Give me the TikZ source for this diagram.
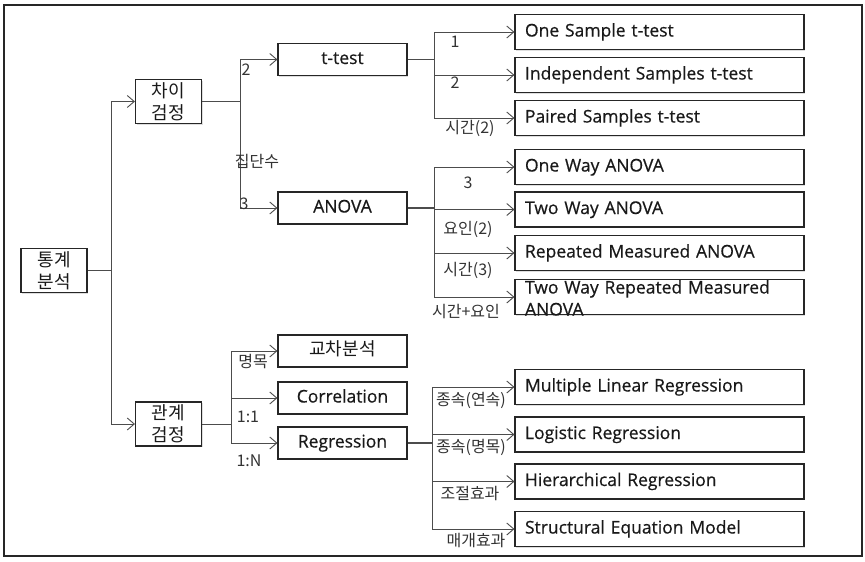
\documentclass[tikz,border=0pt]{standalone}
\usepackage{fontspec}
\setmainfont{Open Sans}[FakeBold=0.5]
\newfontfamily\kr{Noto Sans CJK KR}
\usetikzlibrary{arrows.meta,calc,shadows}

\tikzset{
  box/.style={draw=black!85, line width=1.1pt, fill=white,
    drop shadow={shadow xshift=1.2pt,shadow yshift=-1.2pt,fill=black!25},
    inner sep=0pt, font=\fontsize{17.5}{21}\selectfont, align=center, text=black!90},
  midbox/.style={box, minimum width=129pt, minimum height=32pt, text height=13pt, text depth=4pt},
  leftbox/.style={box, minimum width=66pt, minimum height=44pt, font=\kr\fontsize{18}{22}\selectfont},
  rightbox/.style={box, minimum height=35pt, text width=269pt, align=left, inner xsep=10pt,
    text height=13pt, text depth=4pt},
  lbl/.style={inner sep=0pt, font=\kr\fontsize{16}{18}\selectfont, text=black!80},
  link/.style={draw=black!70, line width=0.9pt},
  arr/.style={link, -{Straight Barb[length=7pt,width=12pt]}},
}

\begin{document}
\begin{tikzpicture}[x=1pt,y=-1pt]
\useasboundingbox (0,0) rectangle (865,562);
\fill[white] (0,0) rectangle (865,562);
\draw[line width=1.6pt, black!85] (4,5) rectangle (862,556);

% left column
\node[leftbox] (stat) at (54,270.5) {통계\\분석};
\node[leftbox] (chai) at (168.5,101.5) {차이\\검정};
\node[leftbox] (gwan) at (168.5,424) {관계\\검정};

% middle column
\node[midbox] (ttest) at (342.5,59.5) {t-test};
\node[midbox] (anova) at (342.5,208) {ANOVA};
\node[midbox, font=\kr\fontsize{18}{21}\selectfont] (cross) at (342.5,351) {교차분석};
\node[midbox] (corr) at (342.5,398) {Correlation};
\node[midbox] (reg) at (342.5,443) {Regression};

% right column
\node[rightbox] (one) at (659.5,32) {One Sample t-test};
\node[rightbox] (indep) at (659.5,75) {Independent Samples t-test};
\node[rightbox] (paired) at (659.5,118) {Paired Samples t-test};
\node[rightbox] (oneway) at (659.5,167) {One Way ANOVA};
\node[rightbox] (twoway) at (659.5,209.5) {Two Way ANOVA};
\node[rightbox] (rep) at (659.5,253) {Repeated Measured ANOVA};
\node[rightbox, text height=14pt, text depth=21pt, font=\fontsize{17.5}{22}\selectfont] (tworep) at (659.5,297) {Two Way Repeated Measured ANOVA};
\node[rightbox] (mlr) at (659.5,387) {Multiple Linear Regression};
\node[rightbox] (logi) at (659.5,434.5) {Logistic Regression};
\node[rightbox] (hier) at (659.5,481.5) {Hierarchical Regression};
\node[rightbox] (sem) at (659.5,529) {Structural Equation Model};

% junctions
\coordinate (j0) at ($(stat.east)+(24,0)$);
\coordinate (j1) at ($(chai.east)+(38,0)$);
\coordinate (j2) at ($(gwan.east)+(29,0)$);
\coordinate (j3) at ($(ttest.east)+(27,0)$);
\coordinate (j4) at ($(anova.east)+(27,0)$);
\coordinate (j5) at ($(reg.east)+(25,0)$);

\draw[link] (stat.east) -- (j0);
\draw[arr] (j0) |- (chai.west);
\draw[arr] (j0) |- (gwan.west);

\draw[link] (chai.east) -- (j1);
\draw[arr] (j1) |- (ttest.west);
\draw[arr] (j1) |- (anova.west);

\draw[link] (gwan.east) -- (j2);
\foreach \n in {cross,corr,reg}
  \draw[arr] (j2) |- (\n.west);

\draw[link] (ttest.east) -- (j3);
\foreach \n in {one,indep,paired}
  \draw[arr] (j3) |- (\n.west);

\draw[link, line width=1.3pt] (anova.east) -- (j4);
\foreach \n in {oneway,twoway,rep,tworep}
  \draw[arr] (j4) |- (\n.west);

\draw[link, line width=1.3pt] (reg.east) -- (j5);
\foreach \n in {mlr,logi,hier,sem}
  \draw[arr] (j5) |- (\n.west);

% labels
\node[lbl] (l2) at (246,70) {2};
\node[lbl] (lgroup) at (257,162) {집단수};
\node[lbl] (l3) at (244,204) {3};
\node[lbl] (lt1) at (455,42) {1};
\node[lbl] (lt2) at (455,83) {2};
\node[lbl] (lt3) at (470,128) {시간(2)};
\node[lbl] (la1) at (468,183) {3};
\node[lbl] (la2) at (468,229) {요인(2)};
\node[lbl] (la3) at (468,270) {시간(3)};
\node[lbl] (la4) at (466,312) {시간+요인};
\node[lbl] (lr1) at (253,362) {명목};
\node[lbl] (lr2) at (248,417) {1:1};
\node[lbl] (lr3) at (249,461) {1:N};
\node[lbl] (lg1) at (471,400) {종속(연속)};
\node[lbl] (lg2) at (471,447) {종속(명목)};
\node[lbl] (lg3) at (470,494) {조절효과};
\node[lbl] (lg4) at (476,541) {매개효과};
\end{tikzpicture}
\end{document}
